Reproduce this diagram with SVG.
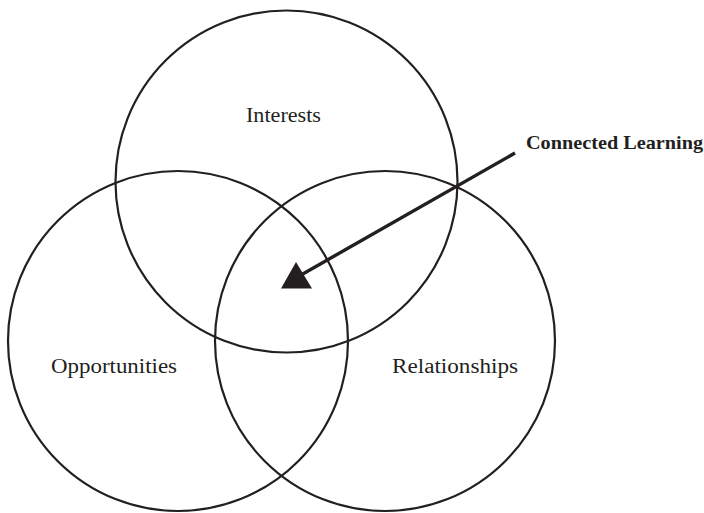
<svg xmlns="http://www.w3.org/2000/svg" width="704" height="513" viewBox="0 0 704 513">
  <style>
    .ring { fill: none; stroke: #231f20; stroke-width: 2.2; }
    .label { font-family: "Liberation Serif", "Times New Roman", serif; font-size: 20px; fill: #231f20; }
    .callout { font-family: "Liberation Serif", "Times New Roman", serif; font-size: 19px; font-weight: bold; fill: #231f20; }
    .pointer { stroke: #231f20; stroke-width: 3.4; fill: none; }
  </style>
  <rect width="704" height="513" fill="#ffffff"/>

  <g id="interests">
    <circle class="ring" cx="286.5" cy="181.5" r="171"/>
    <text class="label" x="246" y="122" textLength="75" lengthAdjust="spacingAndGlyphs">Interests</text>
  </g>

  <g id="opportunities">
    <circle class="ring" cx="178" cy="341" r="170"/>
    <text class="label" x="51" y="373" textLength="126" lengthAdjust="spacingAndGlyphs">Opportunities</text>
  </g>

  <g id="relationships">
    <circle class="ring" cx="385" cy="341" r="170"/>
    <text class="label" x="392" y="373" textLength="126" lengthAdjust="spacingAndGlyphs">Relationships</text>
  </g>

  <g id="connected-learning">
    <text class="callout" x="526" y="149" textLength="177" lengthAdjust="spacingAndGlyphs">Connected Learning</text>
  </g>

  <g id="connectors">
    <line class="pointer" x1="515" y1="153" x2="301" y2="275"/>
    <polygon points="296,262 281,288.5 312,288.5" fill="#231f20"/>
  </g>
</svg>
